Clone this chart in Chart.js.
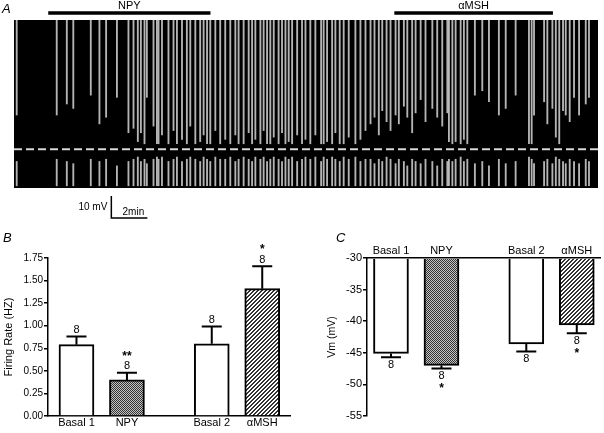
<!DOCTYPE html>
<html lang="en">
<head>
<meta charset="UTF-8" />
<title>NPY and alphaMSH on firing</title>
<script src="https://cdn.jsdelivr.net/npm/chart.js"></script>
<style>
  body { margin: 0; background: #fff; }
  .fig { position: relative; width: 604px; height: 433px; font-family: "Liberation Sans", Arial, sans-serif; }
  .fig canvas { position: absolute; }
  .panel { position: absolute; font-style: italic; font-size: 13px; line-height: 13px; }
</style>
</head>
<body>
<div class="fig">
  <canvas id="traceChart" width="604" height="232" style="left:0;top:0"></canvas>
  <canvas id="rateChart" width="300" height="193" style="left:0;top:240px"></canvas>
  <canvas id="vmChart" width="304" height="193" style="left:300px;top:240px"></canvas>
  <div class="panel" style="left:2px;top:2px">A</div>
  <div class="panel" style="left:3px;top:231px">B</div>
  <div class="panel" style="left:336px;top:231px">C</div>
</div>

<script>
// ---- panel A: recording (time in min, membrane potential in mV) ----
const traceLength = 32.4;
const traceTop = 6;
const traceFloor = -70;
const thresholdMv = -52.5;

const drugName = ['NPY', 'αMSH'];
const drugStart = [1.9, 21.1];
const drugEnd = [10.9, 29.9];

const scaleBarAt = 5.4;   // min
const scaleBarMv = 10;
const scaleBarMin = 2;

// gaps between spikes (white streaks in the compressed trace)
const gapTime = [
  0.15, 2.37, 2.93, 3.29, 4.26, 4.74, 5.11, 5.71, 6.35, 6.63, 6.87, 7.04, 7.24, 7.37, 7.74, 7.93,
  8.02, 8.21, 8.57, 8.85, 9.04, 9.32, 9.59, 9.78, 10.06, 10.33, 10.52, 10.71, 10.89, 11.17, 11.44, 11.72,
  12.0, 12.28, 12.46, 12.74, 13.02, 13.21, 13.39, 13.67, 13.85, 14.04, 14.22, 14.41, 14.68, 14.87, 15.06,
  15.24, 15.43, 15.71, 15.98,
  16.17, 16.44, 16.72, 17.04, 17.18, 17.37, 17.65, 17.83, 18.07, 18.29, 18.57, 18.94, 19.22, 19.5, 19.78,
  20.0, 20.24, 20.43, 20.67, 20.89, 21.17, 21.35, 21.63, 21.82, 22.09, 22.28, 22.56, 22.83, 23.21, 23.48,
  23.76, 24.04,
  24.13, 24.32, 24.5, 24.78, 24.96, 25.15, 25.57, 25.98, 26.35, 26.9, 27.28, 27.83, 28.57, 28.72, 28.85,
  29.41, 29.59, 29.87, 30.06, 30.25, 30.46, 30.61, 30.83, 31.07, 31.35, 31.72, 31.9
];
const gapTopEnd = [
  -37, -37, -32, -34, -28, -41, -38, -29, -45, -43, -49, -45, -50, -29, -42, -50,
  -50, -46, -50, -44, -50, -48, -50, -42, -50, -49, -46, -50, -50, -44, -50, -48,
  -50, -46, -50, -50, -45, -50, -48, -50, -44, -50, -50, -47, -50, -45, -50,
  -49, -50, -46, -50,
  -48, -50, -46, -50, -50, -49, -50, -45, -50, -50, -47, -50, -48, -44, -41,
  -38, -46, -35, -40, -44, -37, -41, -33, -38, -45, -36, -30, -40, -34, -38,
  -42, -36,
  -49, -50, -49, -50, -48, -50, -28, -26, -31, -37, -34, -28, -50, -50, -37,
  -31, -41, -34, -47, -50, -35, -37, -40, -29, -37, -32, -29
];
const gapBottomEnd = [
  -58, -57, -58, -59, -57, -58, -57, -60, -58, -57, -56, -58, -57, -59, -57, -56,
  -57, -56, -58, -57, -56, -58, -57, -56, -57, -58, -56, -57, -58, -56, -57, -57,
  -56, -58, -57, -56, -57, -58, -56, -57, -56, -58, -57, -56, -57, -58, -56,
  -57, -56, -58, -57,
  -56, -57, -56, -58, -56, -57, -56, -57, -58, -56, -57, -56, -58, -57, -57,
  -59, -57, -58, -56, -57, -59, -57, -58, -60, -57, -58, -59, -57, -58, -60,
  -57, -58,
  -57, -58, -57, -56, -58, -57, -59, -58, -60, -57, -59, -58, -56, -57, -59,
  -58, -57, -59, -56, -57, -58, -59, -57, -58, -59, -57, -58
];

// ---- panels B and C: group summaries ----
const groups = ['Basal 1', 'NPY', 'Basal 2', 'αMSH'];
const rateMean = [0.79, 0.40, 0.80, 1.41];
const rateSem = [0.09, 0.08, 0.19, 0.25];
const rateSig = ['', '**', '', '*'];
const vmMean = [-45.1, -47.0, -43.6, -40.6];
const vmSem = [0.6, 0.5, 1.2, 1.3];
const vmSig = ['', '*', '', '*'];
const nCells = [8, 8, 8, 8];

const pairGap = 0.68;
const slotPos = groups.map((g, i) => i + (i >= 2 ? pairGap : 0));

Chart.defaults.font.family = '"Liberation Sans", Arial, sans-serif';
Chart.defaults.color = '#000';
Chart.defaults.animation = false;
Chart.defaults.plugins.legend.display = false;
Chart.defaults.plugins.tooltip.enabled = false;

function dotFill() {
  const c = document.createElement('canvas');
  c.width = c.height = 2;
  const g = c.getContext('2d');
  g.fillStyle = '#c4c4c4';
  g.fillRect(0, 0, 2, 2);
  g.fillStyle = '#333';
  g.fillRect(0, 0, 1, 1);
  g.fillRect(1, 1, 1, 1);
  return g.createPattern(c, 'repeat');
}

function hatchFill() {
  const c = document.createElement('canvas');
  c.width = c.height = 4;
  const g = c.getContext('2d');
  g.fillStyle = '#fff';
  g.fillRect(0, 0, 4, 4);
  g.fillStyle = '#333';
  for (let i = 0; i < 4; i++) {
    g.fillRect(i, 3 - i, 1, 1);
    g.fillRect(i, (4 - i) % 4, 1, 1);
  }
  return g.createPattern(c, 'repeat');
}

const barFills = ['#fff', dotFill(), '#fff', hatchFill()];

// drug bars and scale bar around the trace
const traceNotes = {
  id: 'traceNotes',
  afterDraw(chart) {
    const { ctx, chartArea, scales: { x, y } } = chart;
    ctx.save();
    ctx.strokeStyle = '#000';
    ctx.fillStyle = '#000';
    ctx.font = '11px "Liberation Sans", Arial, sans-serif';
    ctx.textBaseline = 'middle';
    ctx.textAlign = 'center';
    drugName.forEach((name, i) => {
      const x1 = x.getPixelForValue(drugStart[i]);
      const x2 = x.getPixelForValue(drugEnd[i]);
      ctx.lineWidth = 3.5;
      ctx.beginPath();
      ctx.moveTo(x1, chartArea.top - 7);
      ctx.lineTo(x2, chartArea.top - 7);
      ctx.stroke();
      ctx.fillText(name, (x1 + x2) / 2, chartArea.top - 14);
    });

    const sx = x.getPixelForValue(scaleBarAt);
    const sx2 = x.getPixelForValue(scaleBarAt + scaleBarMin);
    const dy = y.getPixelForValue(traceFloor) - y.getPixelForValue(traceFloor + scaleBarMv);
    const sy = chartArea.bottom + 30;
    ctx.lineWidth = 1.5;
    ctx.beginPath();
    ctx.moveTo(sx, sy - dy);
    ctx.lineTo(sx, sy);
    ctx.lineTo(sx2, sy);
    ctx.stroke();
    ctx.font = '10px "Liberation Sans", Arial, sans-serif';
    ctx.textAlign = 'right';
    ctx.fillText(scaleBarMv + ' mV', sx - 4, sy - dy / 2);
    ctx.textAlign = 'center';
    ctx.fillText(scaleBarMin + 'min', (sx + sx2) / 2 + 4, sy - 6);
    ctx.restore();
  }
};

new Chart(document.getElementById('traceChart'), {
  type: 'bar',
  data: {
    datasets: [
      {
        type: 'line',
        data: [{ x: 0, y: traceTop }, { x: traceLength, y: traceTop }],
        borderColor: 'rgba(0,0,0,0)',
        backgroundColor: '#000',
        pointRadius: 0,
        fill: { value: traceFloor },
        order: 3
      },
      {
        data: gapTime.map((t, i) => ({ x: t, y: [gapTopEnd[i], traceTop] })),
        backgroundColor: 'rgba(225,225,225,0.8)',
        barThickness: 1.2,
        grouped: false,
        order: 2
      },
      {
        data: gapTime.map((t, i) => ({ x: t, y: [traceFloor + 1, gapBottomEnd[i]] })),
        backgroundColor: 'rgba(225,225,225,0.8)',
        barThickness: 1.2,
        grouped: false,
        order: 2
      },
      {
        type: 'line',
        data: [{ x: 0, y: thresholdMv }, { x: traceLength, y: thresholdMv }],
        borderColor: '#d6d6d6',
        borderWidth: 2,
        borderDash: [8, 4],
        pointRadius: 0,
        fill: false,
        order: 1
      }
    ]
  },
  options: {
    responsive: false,
    layout: { padding: { left: 14, right: 6, top: 20, bottom: 44 } },
    scales: {
      x: { type: 'linear', min: 0, max: traceLength, offset: false, display: false },
      y: { min: traceFloor, max: traceTop, display: false }
    }
  },
  plugins: [traceNotes]
});

// error bars, n and significance marks
const barNotes = {
  id: 'barNotes',
  afterDatasetsDraw(chart, args, opts) {
    const { ctx, scales: { x, y } } = chart;
    const plain = '11px "Liberation Sans", Arial, sans-serif';
    const bold = 'bold 12px "Liberation Sans", Arial, sans-serif';
    ctx.save();
    ctx.strokeStyle = '#000';
    ctx.fillStyle = '#000';
    ctx.lineWidth = 2;
    ctx.textAlign = 'center';
    opts.means.forEach((m, i) => {
      const px = x.getPixelForValue(slotPos[i]);
      const y0 = y.getPixelForValue(m);
      const y1 = y.getPixelForValue(m + opts.dir * opts.sems[i]);
      ctx.beginPath();
      ctx.moveTo(px, y0);
      ctx.lineTo(px, y1);
      ctx.moveTo(px - 10, y1);
      ctx.lineTo(px + 10, y1);
      ctx.stroke();
      if (opts.dir > 0) {
        ctx.textBaseline = 'bottom';
        ctx.font = plain;
        ctx.fillText(String(nCells[i]), px, y1 - 1);
        ctx.font = bold;
        ctx.fillText(opts.sig[i], px, y1 - 10);
      } else {
        ctx.textBaseline = 'top';
        ctx.font = plain;
        ctx.fillText(String(nCells[i]), px, y1 + 2);
        ctx.font = bold;
        ctx.fillText(opts.sig[i], px, y1 + 14);
      }
    });
    ctx.restore();
  }
};

function groupAxis(min, max, pos, h) {
  return {
    type: 'linear',
    position: pos,
    min: min,
    max: max,
    offset: false,
    grid: { display: false, drawTicks: false },
    border: { color: '#000', width: 1.5 },
    afterBuildTicks: s => { s.ticks = slotPos.map(v => ({ value: v })); },
    ticks: { autoSkip: false, maxRotation: 0, padding: 0, font: { size: 11 }, callback: (v, i) => groups[i] },
    afterFit: s => { s.height = h; }
  };
}

new Chart(document.getElementById('rateChart'), {
  type: 'bar',
  data: {
    datasets: [{
      data: slotPos.map((p, i) => ({ x: p, y: rateMean[i] })),
      backgroundColor: barFills,
      borderColor: '#000',
      borderWidth: 2,
      barThickness: 35
    }]
  },
  options: {
    responsive: false,
    layout: { padding: { left: 0, right: 10, top: 18, bottom: 0 } },
    scales: {
      x: groupAxis(-0.564, 4.23, 'bottom', 17),
      y: {
        min: 0,
        max: 1.75,
        ticks: { stepSize: 0.25, padding: 1, font: { size: 10 }, callback: v => v.toFixed(2) },
        grid: { drawOnChartArea: false, color: '#000', tickLength: 4, lineWidth: 1.5 },
        border: { color: '#000', width: 1.5 },
        title: { display: true, text: 'Firing Rate (HZ)', font: { size: 11 }, padding: { top: 2, bottom: 0 } },
        afterFit: s => { s.width = 48; }
      }
    },
    plugins: { barNotes: { means: rateMean, sems: rateSem, sig: rateSig, dir: 1 } }
  },
  plugins: [barNotes]
});

new Chart(document.getElementById('vmChart'), {
  type: 'bar',
  data: {
    datasets: [{
      data: slotPos.map((p, i) => ({ x: p, y: vmMean[i] })),
      base: -30,
      backgroundColor: barFills,
      borderColor: '#000',
      borderWidth: 2,
      barThickness: 35
    }]
  },
  options: {
    responsive: false,
    layout: { padding: { left: 24, right: 4, top: 0, bottom: 17 } },
    scales: {
      x: groupAxis(-0.475, 4.14, 'top', 18),
      y: {
        min: -55,
        max: -30,
        ticks: { stepSize: 5, padding: 1, font: { size: 11 } },
        grid: { drawOnChartArea: false, color: '#000', tickLength: 4, lineWidth: 1.5 },
        border: { color: '#000', width: 1.5 },
        title: { display: true, text: 'Vm (mV)', font: { size: 10.5 }, padding: { top: 2, bottom: 0 } },
        afterFit: s => { s.width = 43; }
      }
    },
    plugins: { barNotes: { means: vmMean, sems: vmSem, sig: vmSig, dir: -1 } }
  },
  plugins: [barNotes]
});
</script>
</body>
</html>
